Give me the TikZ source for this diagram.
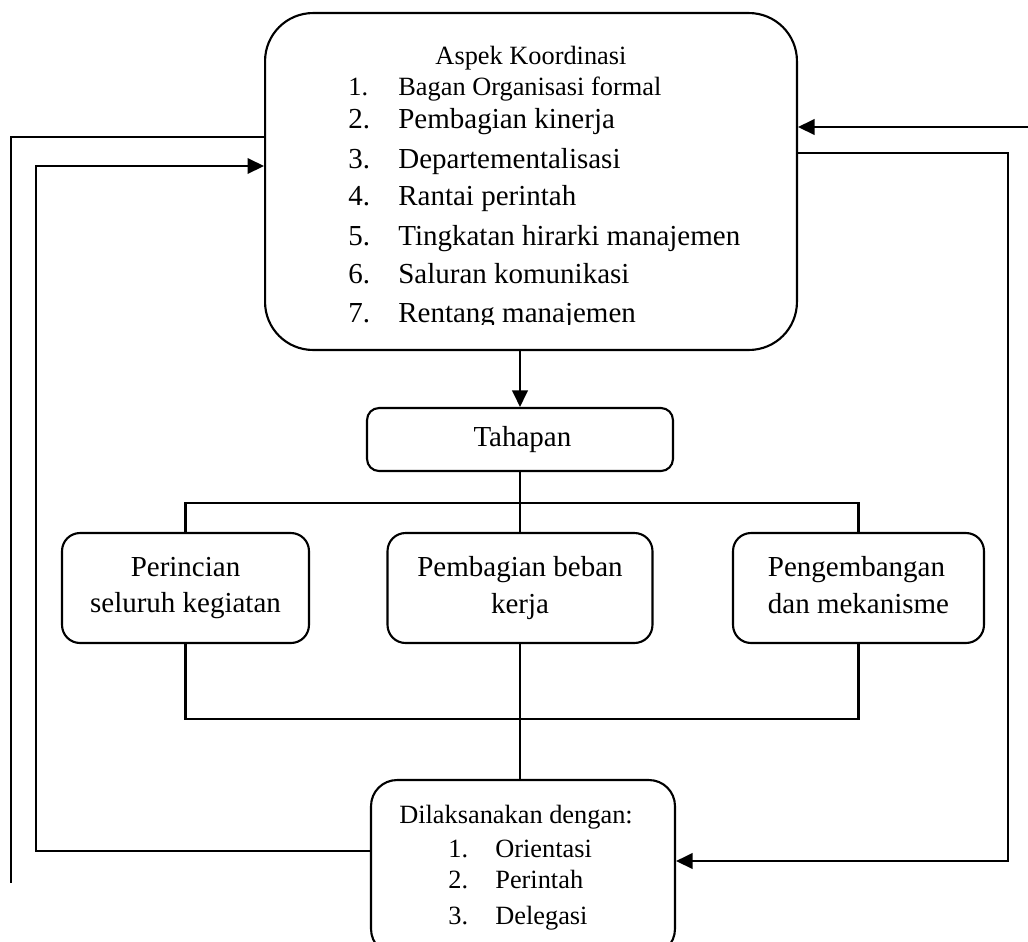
\documentclass[tikz,border=0pt]{standalone}
\usepackage{fontspec}
\setmainfont{Liberation Serif}
\usetikzlibrary{arrows.meta}
\newcommand{\hurufbesar}{\fontsize{16.5}{21}\selectfont}
\newcommand{\hurufkecil}{\fontsize{15}{19}\selectfont}
\tikzset{
  kotak/.style={draw, line width=1.2pt, inner sep=0pt, font=\hurufbesar, align=center},
  teks/.style={inner sep=0pt},
  garis/.style={line width=1.2pt},
  panah/.style={garis, -{Triangle[length=0.33cm, width=0.31cm]}}
}
\begin{document}
\begin{tikzpicture}[x=0.02cm, y=-0.02cm]
\useasboundingbox (0,0) rectangle (1028,941);
\clip (0,0) rectangle (1028,941);

\node[kotak, rounded corners=0.96cm, minimum width=10.64cm, minimum height=6.74cm] (aspek) at (531,181.5) {};
\node[teks, anchor=base, font=\hurufkecil] (judul) at (531,64) {Aspek Koordinasi};
\node[teks, anchor=base west, font=\hurufkecil] (no1) at (348,95) {1.};
\node[teks, anchor=base west, font=\hurufkecil] (item1) at (398,95) {Bagan Organisasi formal};
\foreach \n/\isi/\y in {2/Pembagian kinerja/128, 3/Departementalisasi/168, 4/Rantai perintah/205,
    5/Tingkatan hirarki manajemen/245, 6/Saluran komunikasi/283}{
  \node[teks, anchor=base west, font=\hurufbesar] (no\n) at (348,\y) {\n.};
  \node[teks, anchor=base west, font=\hurufbesar] (item\n) at (398,\y) {\isi};
}
\begin{scope}
  \clip (300,290) rectangle (790,324);
  \node[teks, anchor=base west, font=\hurufbesar] (no7) at (348,322) {7.};
  \node[teks, anchor=base west, font=\hurufbesar] (item7) at (398,322) {Rentang manajemen};
\end{scope}

\node[kotak, rounded corners=0.24cm, minimum width=6.12cm, minimum height=1.26cm] (tahapan) at (520,439.5) {\,Tahapan};

\node[kotak, rounded corners=0.36cm, minimum width=4.94cm, minimum height=2.2cm] (anak1) at (185.5,588) {Perincian\\seluruh kegiatan};
\node[kotak, rounded corners=0.36cm, minimum width=5.3cm, minimum height=2.2cm] (anak2) at (520,588) {Pembagian beban\\kerja};
\node[kotak, rounded corners=0.36cm, minimum width=5.02cm, minimum height=2.2cm, align=left] (anak3) at (858.5,588) {Pengembangan\\dan mekanisme\vphantom{g}};

\node[kotak, rounded corners=0.52cm, minimum width=6.08cm, minimum height=3.5cm] (laksana) at (523,867.5) {};
\node[teks, anchor=base, font=\hurufkecil] (judul2) at (516,823) {Dilaksanakan dengan:};
\foreach \n/\isi/\y in {1/Orientasi/857, 2/Perintah/888, 3/Delegasi/924}{
  \node[teks, anchor=base west, font=\hurufkecil] (cara\n) at (448,\y) {\n.};
  \node[teks, anchor=base west, font=\hurufkecil] (isi\n) at (495,\y) {\isi};
}

\coordinate (cabang) at (520,503);
\coordinate (gabung) at (520,719);
\coordinate (kiriluar) at (11,883);
\coordinate (kiridalam) at (36,166);
\coordinate (masuk) at (1028,127);
\coordinate (kanan) at (1008,861);

\draw[panah] (tahapan.north |- aspek.south) -- (tahapan.north);
\draw[garis] (tahapan.south) -- (anak2.north);
\draw[garis] (anak1.north) |- (cabang) -| (anak3.north);
\draw[garis] (anak1.south) |- (gabung) -| (anak3.south);
\draw[garis] (anak2.south) -- (anak2.south |- laksana.north);

\draw[garis] (aspek.west |- 0,137) -| (kiriluar);
\draw[panah] (laksana.west |- 0,851) -| (kiridalam) -- (aspek.west |- kiridalam);
\draw[panah] (masuk) -- (aspek.east |- masuk);
\draw[panah] (aspek.east |- 0,153) -| (kanan) -- (laksana.east |- kanan);
\end{tikzpicture}
\end{document}
